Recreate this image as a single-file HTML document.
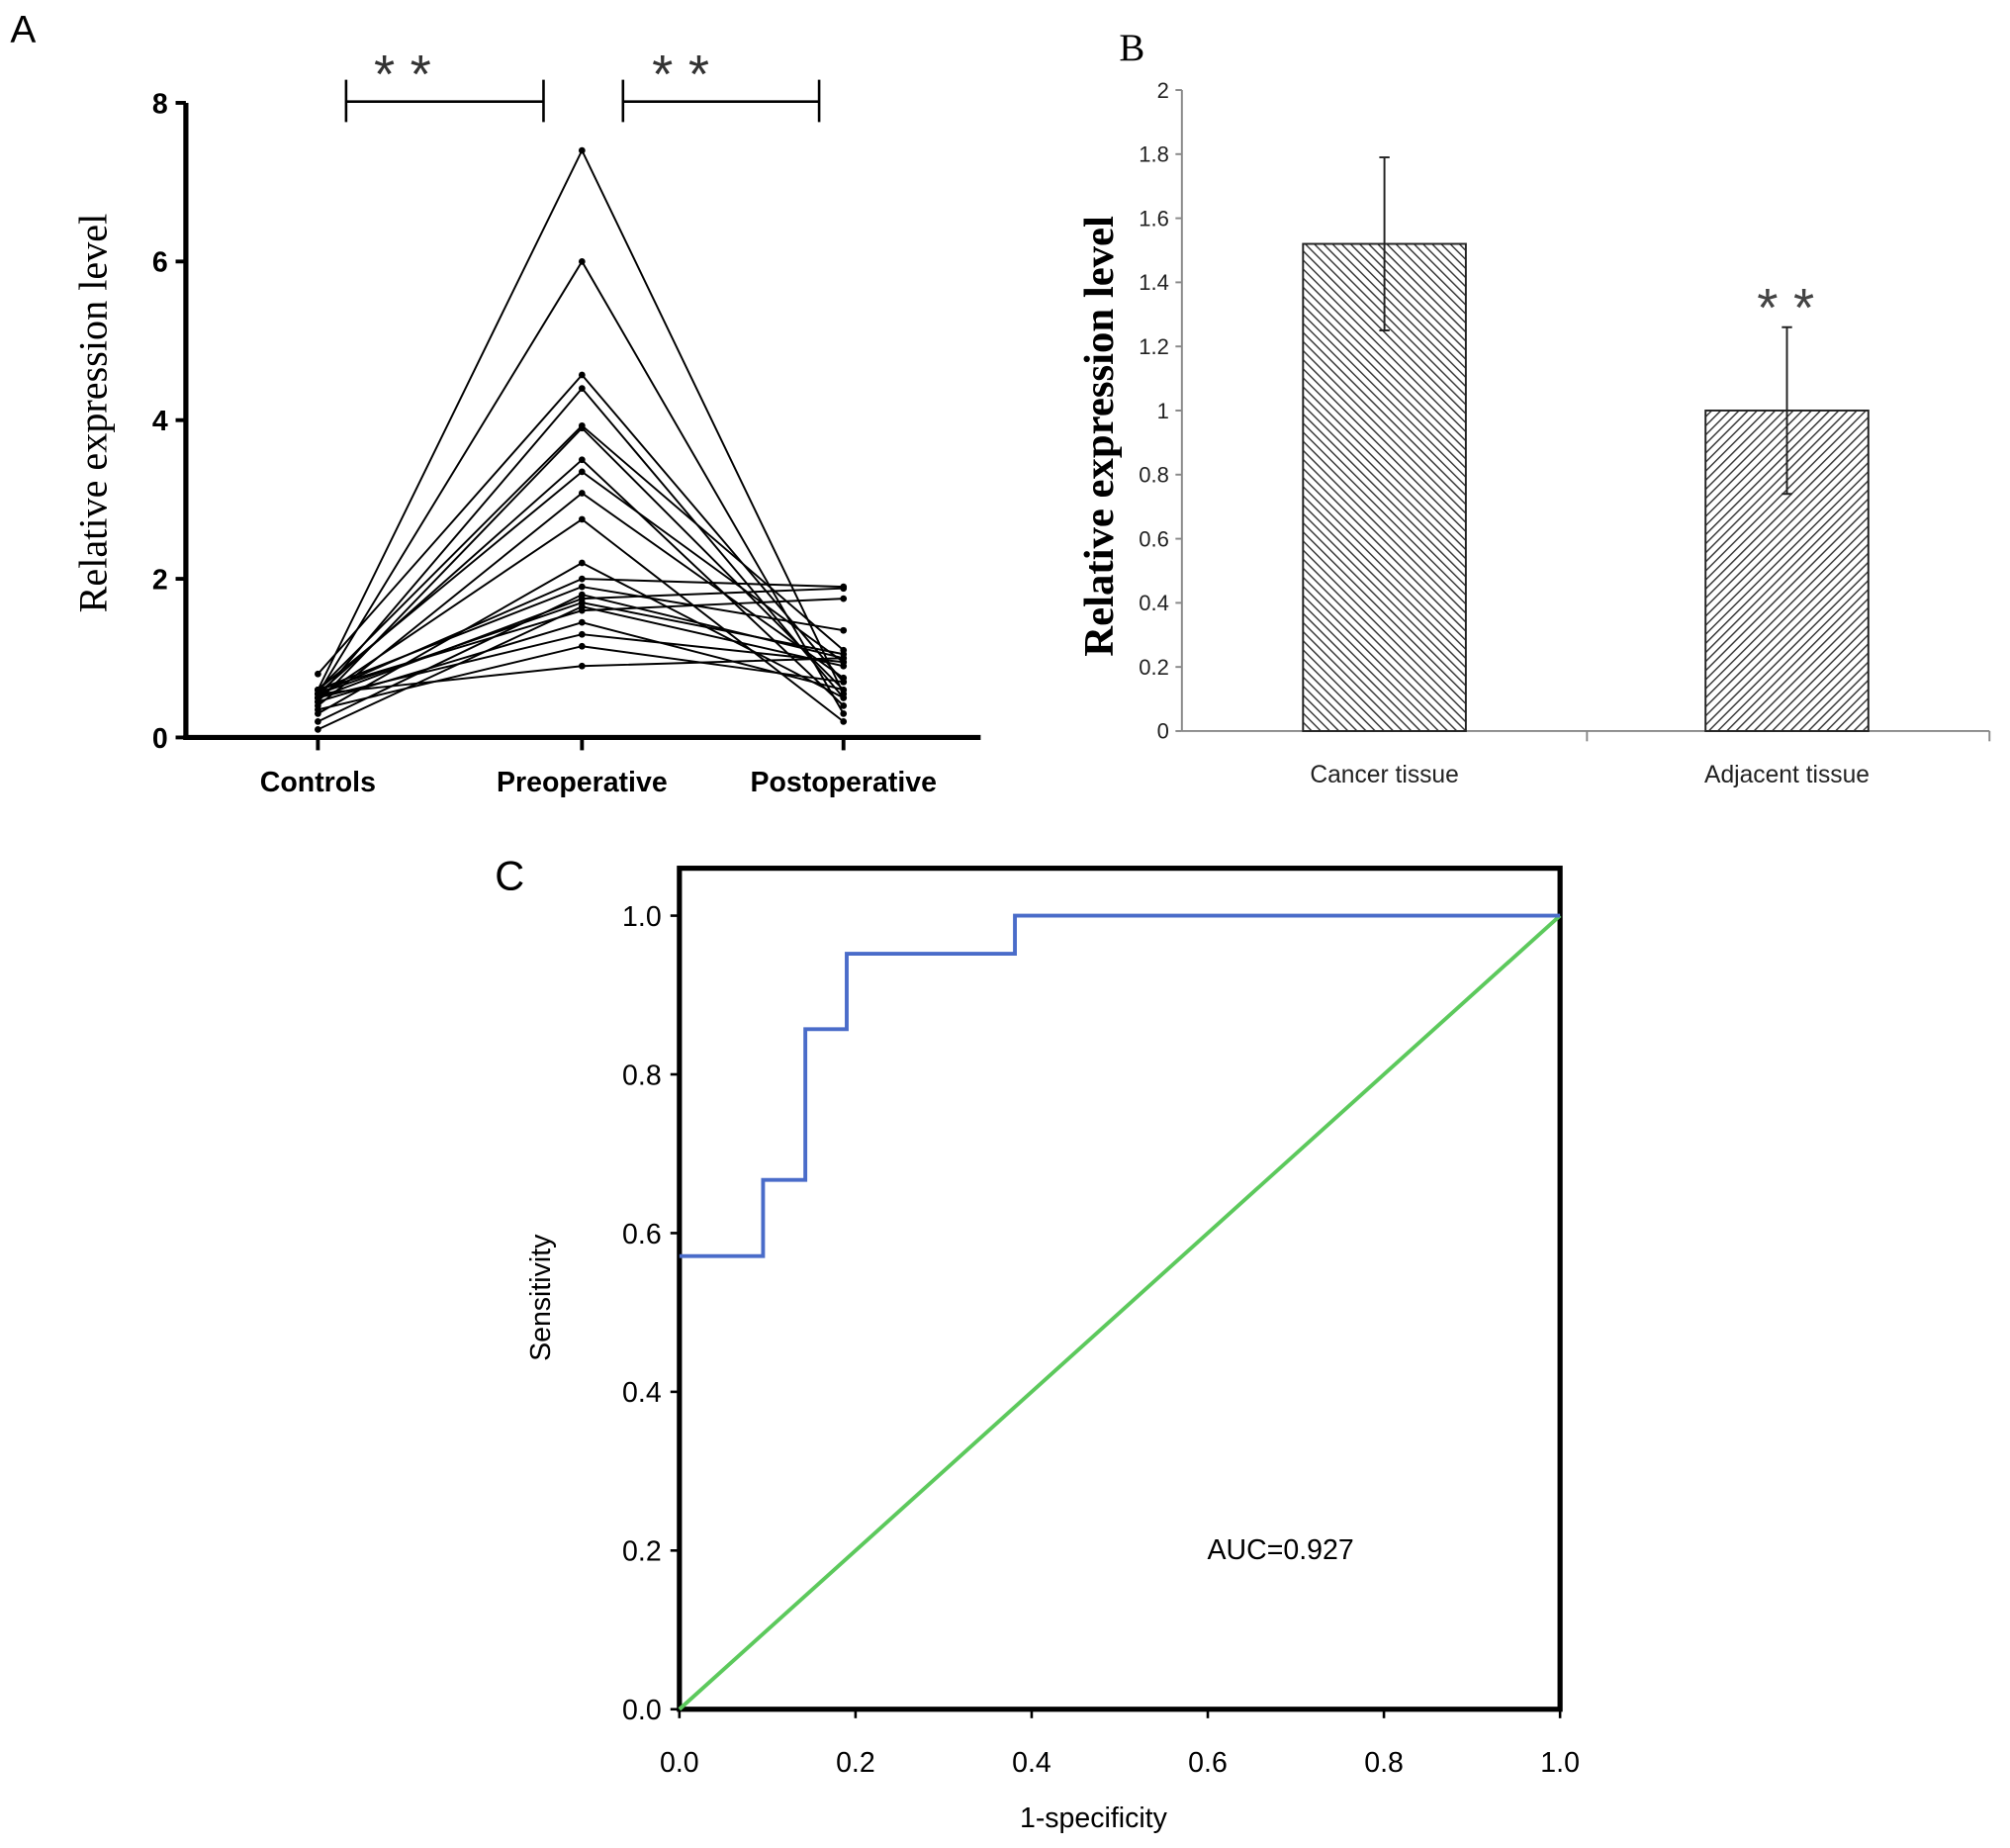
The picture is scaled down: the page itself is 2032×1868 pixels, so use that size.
<!DOCTYPE html>
<html><head><meta charset="utf-8"><style>
html,body{margin:0;padding:0;background:#fff}
svg{display:block}
text{font-family:"Liberation Sans",sans-serif}
.serif{font-family:"Liberation Serif",serif}
</style></head><body>
<svg id="fig" width="2032" height="1868" viewBox="0 0 1568 1441" xmlns="http://www.w3.org/2000/svg">
<defs>
<pattern id="hatchA" patternUnits="userSpaceOnUse" width="5" height="5" patternTransform="rotate(-45)"><rect width="5" height="5" fill="#fff"/><line x1="0" y1="0" x2="0" y2="5" stroke="#333" stroke-width="2.2"/></pattern>
<pattern id="hatchB" patternUnits="userSpaceOnUse" width="5" height="5" patternTransform="rotate(45)"><rect width="5" height="5" fill="#fff"/><line x1="0" y1="0" x2="0" y2="5" stroke="#333" stroke-width="2.2"/></pattern>
</defs>
<g id="panelA"></g>
<g id="panelB"></g>
<g id="panelC"></g>
</svg>
<script>
// Panel A data
const aCategories = ["Controls","Preoperative","Postoperative"];
const aTicks = [0,2,4,6,8];
const aControls = [0.6,0.55,0.8,0.5,0.6,0.45,0.55,0.6,0.4,0.5,0.3,0.55,0.6,0.2,0.5,0.55,0.1,0.6,0.45,0.5,0.35,0.55];
const aPre = [7.4,6.0,4.57,4.4,3.93,3.9,3.5,3.35,3.08,2.75,2.2,2.0,1.9,1.8,1.75,1.7,1.65,1.6,1.45,1.3,1.15,0.9];
const aPost = [0.55,0.3,0.7,0.5,1.1,0.6,0.4,0.95,0.75,0.2,0.5,1.9,1.35,1.0,1.88,1.05,0.9,1.75,0.6,0.95,0.7,1.0];
// Panel B data
const bCategories = ["Cancer tissue","Adjacent tissue"];
const bValues = [1.52,1.0];
const bErrors = [0.27,0.26];
const bTicks = ["0","0.2","0.4","0.6","0.8","1","1.2","1.4","1.6","1.8","2"];
// Panel C data
const cFpr = [0,0.095,0.095,0.143,0.143,0.19,0.19,0.381,0.381,1.0];
const cTpr = [0.571,0.571,0.667,0.667,0.857,0.857,0.952,0.952,1.0,1.0];
const cTicks = ["0.0","0.2","0.4","0.6","0.8","1.0"];

const NS="http://www.w3.org/2000/svg";
function mk(parent,tag,attrs,txt){const e=document.createElementNS(NS,tag);for(const k in attrs)e.setAttribute(k,attrs[k]);if(txt!==undefined)e.textContent=txt;parent.appendChild(e);return e;}

// ---- Panel A ----
(function(){
const g=document.getElementById('panelA');
const x0=145,x1=765,yb=575,yt=80;
const ys=v=>yb-(v/8)*(yb-yt);
const xc=[248,454,658];
let t=mk(g,'text',{x:8,y:33,'font-size':30});t.textContent='A';


let l=mk(g,'line',{x1:x0,y1:yt,x2:x0,y2:yb+2,stroke:'#000','stroke-width':4});

l=mk(g,'line',{x1:x0-2,y1:yb,x2:x1,y2:yb,stroke:'#000','stroke-width':4});

aTicks.forEach(v=>{
 mk(g,'line',{x1:x0-8,y1:ys(v),x2:x0,y2:ys(v),stroke:'#000','stroke-width':3});
 const tt=mk(g,'text',{x:x0-14,y:ys(v)+8,'font-size':22,'font-weight':'bold','text-anchor':'end'},String(v));
 
});
aCategories.forEach((c,i)=>{
 mk(g,'line',{x1:xc[i],y1:yb,x2:xc[i],y2:yb+10,stroke:'#000','stroke-width':3});
 const tt=mk(g,'text',{x:xc[i],y:617,'font-size':22,'font-weight':'bold','text-anchor':'middle'},c);
 
});
const yt2=mk(g,'text',{class:'serif',x:0,y:0,'font-size':31,'text-anchor':'middle',transform:'translate(83,322) rotate(-90)'},'Relative expression level');

for(let i=0;i<aPre.length;i++){
 const p=mk(g,'polyline',{points:`${xc[0]},${ys(aControls[i])} ${xc[1]},${ys(aPre[i])} ${xc[2]},${ys(aPost[i])}`,fill:'none',stroke:'#000','stroke-width':1.5});
 
 [[0,aControls[i]],[1,aPre[i]],[2,aPost[i]]].forEach(([k,v])=>{
  const d=mk(g,'circle',{cx:xc[k],cy:ys(v),r:2.6,fill:'#000'});
  
 });
}
[[270,424,320],[486,639,537]].forEach(([a,b,m])=>{
 const br=mk(g,'path',{d:`M${a},95 V62 M${a},79 H${b} M${b},62 V95`,fill:'none',stroke:'#000','stroke-width':2});
 
 const s=mk(g,'text',{x:m,y:72,'font-size':42,'text-anchor':'middle','letter-spacing':12,fill:'#333'},'**');
 
});
})();

// ---- Panel B ----
(function(){
const g=document.getElementById('panelB');
const x0=922,x1=1552,yb=570,yt=70;
const ys=v=>yb-(v/2)*(yb-yt);
let t=mk(g,'text',{class:'serif',x:873,y:47,'font-size':30},'B');

let l=mk(g,'line',{x1:x0,y1:yt,x2:x0,y2:yb,stroke:'#888','stroke-width':1.5});

l=mk(g,'line',{x1:x0,y1:yb,x2:x1,y2:yb,stroke:'#888','stroke-width':1.5});

bTicks.forEach(s=>{
 const v=parseFloat(s);
 mk(g,'line',{x1:x0-5,y1:ys(v),x2:x0,y2:ys(v),stroke:'#888','stroke-width':1.5});
 const tt=mk(g,'text',{x:x0-10,y:ys(v)+6,'font-size':17,'text-anchor':'end',fill:'#222'},s);
 
});
[1238,1552].forEach(x=>mk(g,'line',{x1:x,y1:yb,x2:x,y2:yb+8,stroke:'#888','stroke-width':1.5}));
const yt2=mk(g,'text',{class:'serif',x:0,y:0,'font-size':33,'font-weight':'bold','text-anchor':'middle',transform:'translate(868,340) rotate(-90)'},'Relative expression level');

const centers=[1080,1394],bw=127,pats=['url(#hatchA)','url(#hatchB)'];
bCategories.forEach((c,i)=>{
 const r=mk(g,'rect',{x:centers[i]-bw/2,y:ys(bValues[i]),width:bw,height:yb-ys(bValues[i]),fill:pats[i],stroke:'#222','stroke-width':1.5});
 
 const e=mk(g,'path',{d:`M${centers[i]},${ys(bValues[i]+bErrors[i])} V${ys(bValues[i]-bErrors[i])} M${centers[i]-4},${ys(bValues[i]+bErrors[i])} H${centers[i]+4} M${centers[i]-4},${ys(bValues[i]-bErrors[i])} H${centers[i]+4}`,stroke:'#222','stroke-width':1.5,fill:'none'});
 
 const tt=mk(g,'text',{x:centers[i],y:610,'font-size':19,'text-anchor':'middle',fill:'#222'},c);
 
});
const s=mk(g,'text',{x:1399,y:254,'font-size':42,'text-anchor':'middle','letter-spacing':12,fill:'#444'},'**');

})();

// ---- Panel C ----
(function(){
const g=document.getElementById('panelC');
const xl=530,xr=1217,yb=1333,y1v=714;
const xs=v=>xl+v*(xr-xl);
const ys=v=>yb-v*(yb-y1v);
let t=mk(g,'text',{x:386,y:694,'font-size':32},'C');

const fr=mk(g,'rect',{x:xl,y:677,width:xr-xl,height:yb-677,fill:'none',stroke:'#000','stroke-width':4});

cTicks.forEach(s=>{
 const v=parseFloat(s);
 mk(g,'line',{x1:xl-7,y1:ys(v),x2:xl,y2:ys(v),stroke:'#000','stroke-width':2});
 let tt=mk(g,'text',{x:xl-14,y:ys(v)+8,'font-size':22,'text-anchor':'end'},s);
 
 mk(g,'line',{x1:xs(v),y1:yb,x2:xs(v),y2:yb+7,stroke:'#000','stroke-width':2});
 tt=mk(g,'text',{x:xs(v),y:1382,'font-size':22,'text-anchor':'middle'},s);
 
});
let tt=mk(g,'text',{x:853,y:1425,'font-size':22,'text-anchor':'middle'},'1-specificity');

tt=mk(g,'text',{x:0,y:0,'font-size':22,'text-anchor':'middle',transform:'translate(429,1012) rotate(-90)'},'Sensitivity');

const d=mk(g,'line',{x1:xs(0),y1:ys(0),x2:xs(1),y2:ys(1),stroke:'#5cc95c','stroke-width':3});

const roc=mk(g,'polyline',{points:cFpr.map((f,i)=>xs(f)+','+ys(cTpr[i])).join(' '),fill:'none',stroke:'#4a6cc9','stroke-width':3});

tt=mk(g,'text',{x:999,y:1216,'font-size':22,'text-anchor':'middle'},'AUC=0.927');

})();
</script>
</body></html>
